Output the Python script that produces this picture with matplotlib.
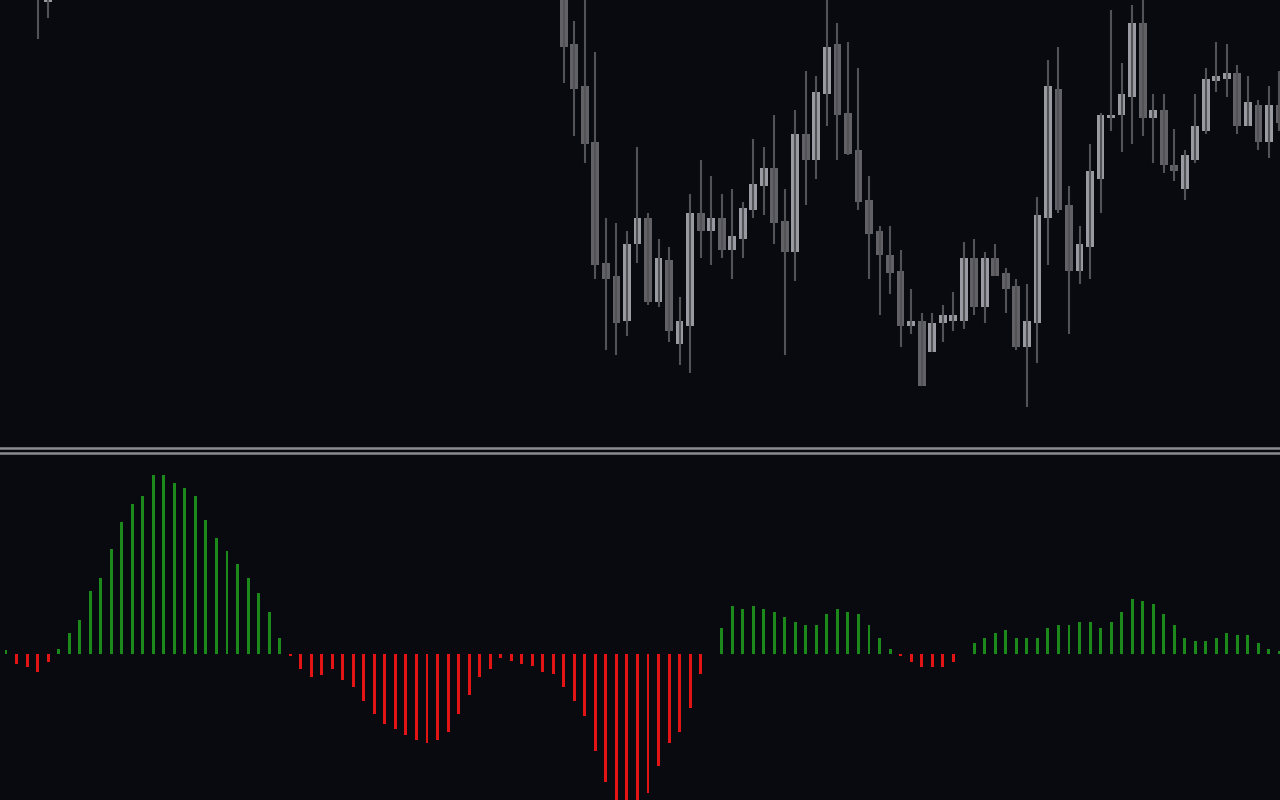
import matplotlib
matplotlib.use("Agg")
import matplotlib.pyplot as plt
from matplotlib.lines import Line2D

# candle index on the shared x axis (earlier candles sit above the visible range)
candle_idx = [3, 4] + list(range(53, 122))

opens = [470, 444.3,
         466, 402, 360, 304, 183, 170, 125.3, 202.3, 227.7, 144,
         186, 102.3, 120.3, 232.7, 215.3, 227.7, 196.3, 207.3, 236, 260,
         278, 225.3, 194.3, 312, 286.3, 352.3, 402, 333, 296, 246,
         215.3, 191.3, 175.3, 120.3, 125, 94.3, 123.3, 125.3, 125.3, 188.3,
         139.3, 188.3, 173.3, 160.3, 99.3, 123.3, 228.3, 357, 241, 175.3,
         199.3, 267.3, 328.3, 331.3, 349.3, 423, 328.3, 336, 281, 257.3,
         286.3, 315.3, 365.3, 367.3, 373, 320.3, 341, 304.3, 341]
highs = [500, 490,
         480, 425, 451, 394, 227.7, 222.7, 215, 299, 232.7, 207,
         199, 149, 252, 285.7, 269.7, 252, 257, 243.7, 307, 299,
         331, 257, 336, 375, 370, 449, 423, 404, 378, 270,
         220, 220, 196, 157.3, 133.3, 133.3, 141.3, 154.3, 204, 207,
         194, 202, 178, 167.3, 162.3, 249.3, 386, 399, 260, 220,
         302, 333, 436, 383, 441, 448, 352, 352, 317, 296,
         352, 378, 404, 402, 381, 370, 346, 360, 375]
lows = [407, 428,
        362.7, 310.3, 283.3, 167.3, 96.3, 91.3, 110.3, 183, 141.3, 139.3,
        104.3, 81.3, 73.3, 188.3, 181.3, 188.3, 167.3, 188.3, 228.3, 231.3,
        202.3, 91.3, 165.3, 241.3, 267.3, 320.3, 286.3, 291.3, 236.3, 167.3,
        131.3, 152.3, 99.3, 112.3, 60.3, 94.3, 104.3, 115.3, 117.3, 131.3,
        123.3, 170.3, 133.3, 96.3, 39.3, 83.3, 181.3, 233.3, 112.3, 162.3,
        167.3, 233.3, 315.3, 294.3, 302.3, 310.3, 283.3, 273.3, 265.3, 246.3,
        283.3, 312.3, 354.3, 349.3, 312.3, 320.3, 296.3, 288.3, 315.3]
closes = [480, 468,
          399.3, 357.3, 302.3, 181, 167.3, 123.3, 202, 227.7, 144, 188,
          115.3, 125, 232.7, 215.3, 227.7, 196.3, 210, 237.7, 262, 278,
          223.3, 194.3, 312, 286.3, 354, 399, 331.3, 292.3, 244.3, 212.3,
          191.3, 173.3, 120.3, 125, 60.3, 123.3, 131.3, 131.3, 188.3, 139.3,
          188.3, 170.3, 157.3, 99.3, 125, 231, 360, 236.3, 175.3, 202,
          275, 331, 331, 352, 423, 328.3, 336, 281.3, 275.3, 291,
          320, 367, 370, 373, 320.3, 344, 304.3, 341, 323.3]

# histogram values, one per bar from index 0
hist = [4, -10.7, -13, -18.7, -8, 5, 21, 34, 63, 76,
        105, 132, 150, 158, 179, 179, 171, 166, 158, 134,
        116, 103, 90, 76, 61, 42, 16, -2.7, -15.7, -23.7,
        -21, -15.7, -26.7, -33.7, -47.7, -60.7, -70.7, -75.7, -81.7, -86.7,
        -89.7, -86.7, -78.7, -60.7, -41.7, -23.7, -15.7, -4.7, -7.7, -10.7,
        -12.7, -18.7, -20.7, -33.7, -47.7, -62.7, -97.7, -128.7, -158, -165,
        -155, -139.7, -112.7, -89.7, -78.7, -54.7, -20.7, 0, 26, 48,
        45, 48, 45, 42, 37, 32, 29, 29, 40, 45,
        42, 40, 29, 16, 5, -2.7, -8, -13, -13, -13,
        -8, 0, 11, 16, 21, 24, 16, 16, 16, 26,
        29, 29, 32, 32, 26, 32, 42, 55, 53, 50,
        40, 29, 16, 13, 13, 16, 21, 19, 19, 11,
        5, 3]

bg = "#090a0f"
light = "#9a9aa3"
dark = "#616166"
wick = "#525257"
green = "#1b8a1b"
red = "#e21414"

fig = plt.figure(figsize=(12.8, 8), dpi=100, facecolor=bg)
ax = fig.add_axes([0, 1 - 446 / 800, 1, 446 / 800])
ax2 = fig.add_axes([0, 0, 1, 345 / 800])

for a in (ax, ax2):
    a.set_facecolor(bg)
    a.set_xlim(-0.57, 121.05)
    a.axis("off")

ax.set_ylim(0, 446)
ax2.set_ylim(-146.5, 198.5)

# candles
ax.vlines(candle_idx, lows, highs, color=wick, linewidth=1.5)
body_colors = [light if c >= o else dark for o, c in zip(opens, closes)]
bottoms = [min(o, c) for o, c in zip(opens, closes)]
heights = [max(abs(c - o), 2) for o, c in zip(opens, closes)]
ax.bar(candle_idx, heights, bottom=bottoms, width=0.74, color=body_colors,
       linewidth=0)

# histogram
xs = list(range(len(hist)))
bar_colors = [green if v > 0 else red for v in hist]
ax2.bar(xs, hist, width=0.28, color=bar_colors, linewidth=0)

# double separator between panes
for yp in (448, 453.3):
    fig.add_artist(Line2D([0, 1], [1 - yp / 800, 1 - yp / 800],
                          color="#8c8c90", linewidth=1.8,
                          transform=fig.transFigure))

fig.savefig("out.png", dpi=100, facecolor=bg)
